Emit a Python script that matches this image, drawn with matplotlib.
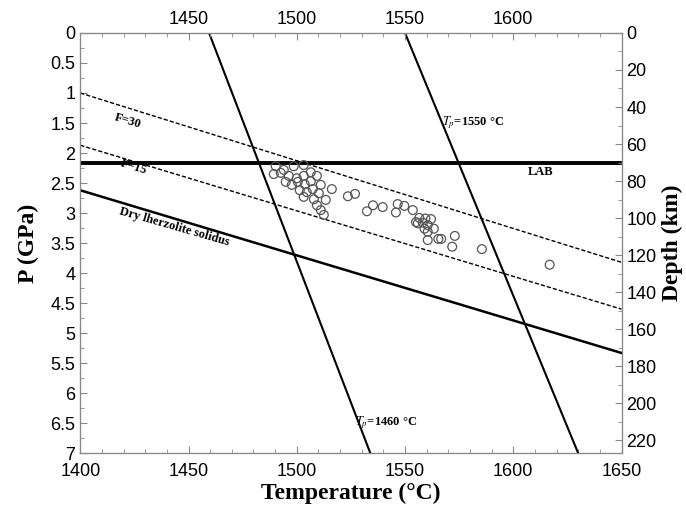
import matplotlib
matplotlib.use("Agg")
import matplotlib.pyplot as plt
import numpy as np

# ---- Data ------------------------------------------------------------------
# sample P-T estimates (deg C, GPa)
sample_T = [
    1490.3, 1494.0, 1498.6, 1503.2, 1489.4, 1492.6, 1496.3, 1500.0, 1503.2,
    1506.5, 1494.9, 1497.7, 1500.5, 1503.7, 1506.5, 1509.3, 1501.4, 1504.6,
    1507.4, 1510.2, 1511.1, 1503.2, 1507.9, 1509.3, 1511.1, 1513.4, 1516.2,
    1512.5, 1523.6, 1526.9, 1532.4, 1535.2, 1539.7, 1546.6, 1549.7, 1545.8,
    1553.6, 1556.6, 1559.4, 1562.0, 1555.1, 1555.9, 1558.2, 1560.5, 1563.3,
    1559.0, 1560.5, 1573.0, 1565.4, 1566.7, 1560.5, 1571.8, 1585.5, 1616.8,
]
sample_P = [
    2.22, 2.28, 2.22, 2.20, 2.35, 2.33, 2.38, 2.42, 2.38,
    2.32, 2.48, 2.53, 2.48, 2.52, 2.47, 2.38, 2.62, 2.65,
    2.60, 2.67, 2.53, 2.73, 2.77, 2.87, 2.95, 2.78, 2.60,
    3.03, 2.72, 2.68, 2.97, 2.87, 2.90, 2.85, 2.88, 2.99,
    2.95, 3.08, 3.09, 3.10, 3.15, 3.17, 3.16, 3.20, 3.26,
    3.26, 3.31, 3.38, 3.43, 3.43, 3.45, 3.56, 3.60, 3.86,
]

# straight reference lines, given by end points (T, P)
tp1460_T = [1459.5, 1534.0]
tp1460_P = [0.0, 7.0]
tp1550_T = [1550.0, 1630.0]
tp1550_P = [0.0, 7.0]
f30_T = [1400, 1650]
f30_P = [1.00, 3.82]
f15_T = [1400, 1650]
f15_P = [1.87, 4.60]
solidus_T = [1400, 1650]
solidus_P = [2.62, 5.33]
lab_P = 2.16

KM_PER_GPA = 32.43

# ---- Figure ----------------------------------------------------------------
plt.rcParams["font.family"] = "Liberation Sans"
plt.rcParams["mathtext.fontset"] = "stix"

fig = plt.figure(figsize=(6.86, 5.07), dpi=100)
ax = fig.add_axes([0.117, 0.106, 0.789, 0.829])

ax.plot(tp1460_T, tp1460_P, color="black", lw=1.5)
ax.plot(tp1550_T, tp1550_P, color="black", lw=1.5)
ax.plot(f30_T, f30_P, color="black", lw=1.0, ls=(0, (3, 1.5)))
ax.plot(f15_T, f15_P, color="black", lw=1.0, ls=(0, (3, 1.5)))
ax.plot(solidus_T, solidus_P, color="black", lw=1.8)
ax.axhline(lab_P, color="black", lw=2.8)

ax.scatter(sample_T, sample_P, s=40, facecolors="none",
           edgecolors="#555555", linewidths=0.9, zorder=3)

ax.set_xlim(1400, 1650)
ax.set_ylim(7, 0)

# ---- Labels on the plot ------------------------------------------------------
ann = dict(family="Liberation Serif", weight="bold", fontsize=9)
ax.text(1422, 1.47, "F=30", rotation=-17, ha="center", va="center", **ann)
ax.text(1424.5, 2.23, "F=15", rotation=-17, ha="center", va="center", **ann)
ax.text(1443.5, 3.23, "Dry lherzolite solidus", rotation=-16,
        ha="center", va="center", **ann)
ax.text(1612.7, 2.31, "LAB", ha="center", va="center", **ann)
ax.text(1567, 1.49, r"$T_p$=1550 °C", ha="left", va="center", **ann)
ax.text(1527, 6.49, r"$T_p$=1460 °C", ha="left", va="center", **ann)

# ---- Axes styling ------------------------------------------------------------
spine_col = "#888888"
for s in ax.spines.values():
    s.set_color(spine_col)

ax.set_xticks(np.arange(1400, 1651, 50))
ax.set_xticks(np.arange(1400, 1651, 10), minor=True)
ax.set_yticks(np.arange(0, 7.01, 0.5))
ax.set_yticks(np.arange(0, 7.01, 0.25), minor=True)
ax.set_yticklabels([f"{v:g}" for v in np.arange(0, 7.01, 0.5)])
ax.tick_params(which="both", direction="in", color=spine_col, labelsize=13)
ax.tick_params(which="major", length=5)
ax.tick_params(which="minor", length=3)
ax.tick_params(axis="x", pad=7)

ax.set_xlabel("Temperature (°C)", family="Liberation Serif", weight="bold",
              fontsize=17, labelpad=2)
ax.set_ylabel("P (GPa)", family="Liberation Serif", weight="bold",
              fontsize=17, labelpad=8)

# top temperature axis
top = ax.twiny()
top.set_xlim(ax.get_xlim())
top.set_xticks([1450, 1500, 1550, 1600])
top.set_xticks(np.arange(1400, 1651, 10), minor=True)
top.tick_params(which="both", direction="in", color=spine_col, labelsize=13)
top.tick_params(which="major", length=5)
top.tick_params(which="minor", length=3)

# right depth axis
right = ax.twinx()
right.set_ylim(7 * KM_PER_GPA, 0)
right.set_yticks(np.arange(0, 221, 20))
right.set_yticks(np.arange(0, 221, 10), minor=True)
right.tick_params(which="both", direction="in", color=spine_col, labelsize=13)
right.tick_params(which="major", length=5)
right.tick_params(which="minor", length=3)
right.set_ylabel("Depth (km)", family="Liberation Serif", weight="bold",
                 fontsize=17, labelpad=4)
for a in (top, right):
    for s in a.spines.values():
        s.set_color(spine_col)

fig.savefig("out.png", dpi=100)
